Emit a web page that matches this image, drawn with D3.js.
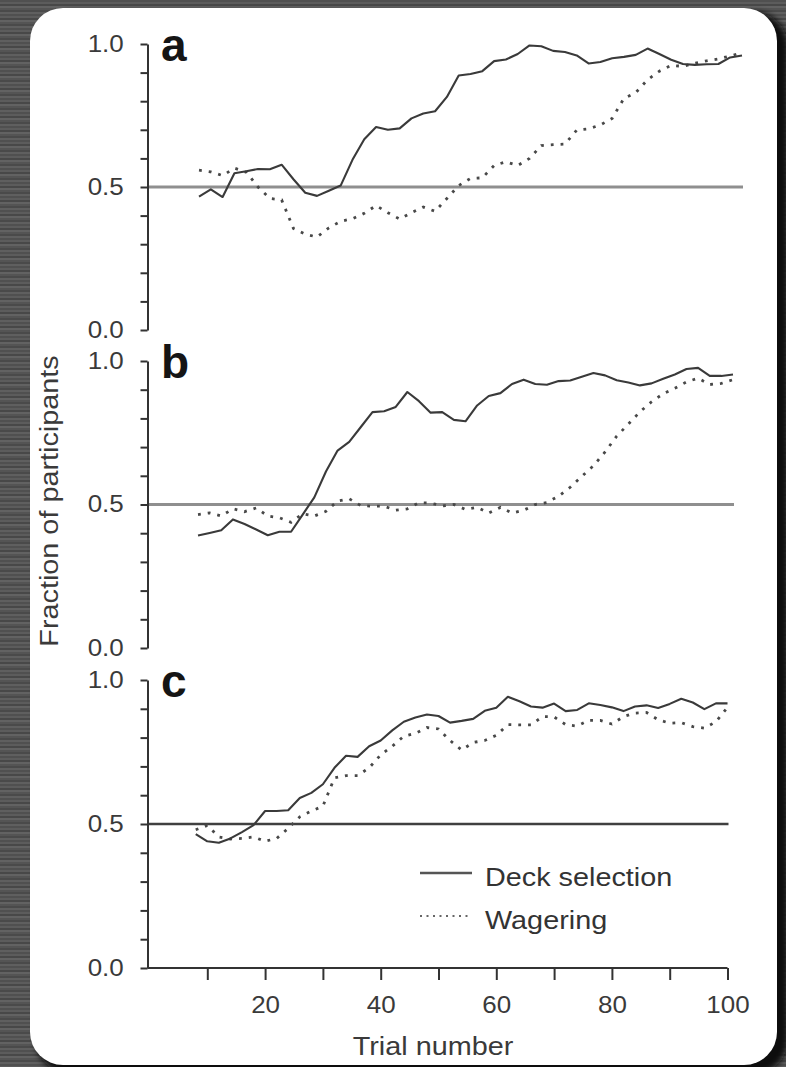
<!DOCTYPE html>
<html>
<head>
<meta charset="utf-8">
<script src="https://cdn.jsdelivr.net/npm/d3@7"></script>
<style>
  html, body { margin: 0; padding: 0; background: #4f4f4f; overflow: hidden; }
  svg { display: block; }
</style>
</head>
<body>
<div id="chart"></div>
<script>
// trial grid (every second trial, moving window starts around trial 8)
const trials = [8, 10, 12, 14, 16, 18, 20, 22, 24, 26, 28, 30, 32, 34, 36, 38, 40, 42, 44, 46, 48, 50, 52, 54,
  56, 58, 60, 62, 64, 66, 68, 70, 72, 74, 76, 78, 80, 82, 84, 86, 88, 90, 92, 94, 96, 98, 100];

const deckA = [0.466, 0.492, 0.465, 0.548, 0.555, 0.563, 0.562, 0.578, 0.527, 0.48, 0.469, 0.487, 0.505, 0.595,
  0.667, 0.71, 0.7, 0.705, 0.74, 0.757, 0.765, 0.815, 0.89, 0.895, 0.905, 0.94, 0.946, 0.965, 0.995, 0.992,
  0.976, 0.972, 0.96, 0.932, 0.937, 0.95, 0.955, 0.962, 0.984, 0.965, 0.945, 0.93, 0.927, 0.929, 0.93, 0.953, 0.96];
const wagerA = [0.559, 0.553, 0.54, 0.566, 0.552, 0.5, 0.46, 0.455, 0.355, 0.335, 0.325, 0.357, 0.38, 0.389,
  0.408, 0.435, 0.41, 0.388, 0.41, 0.43, 0.415, 0.46, 0.505, 0.53, 0.532, 0.575, 0.588, 0.575, 0.6, 0.645,
  0.648, 0.65, 0.699, 0.703, 0.717, 0.74, 0.81, 0.83, 0.875, 0.905, 0.925, 0.922, 0.933, 0.941, 0.948, 0.958, 0.97];

const deckB = [0.392, 0.401, 0.41, 0.448, 0.432, 0.413, 0.393, 0.405, 0.405, 0.465, 0.525, 0.615, 0.688, 0.718,
  0.77, 0.822, 0.825, 0.84, 0.892, 0.86, 0.82, 0.822, 0.795, 0.79, 0.845, 0.878, 0.888, 0.92, 0.935, 0.92,
  0.917, 0.93, 0.932, 0.945, 0.958, 0.95, 0.933, 0.925, 0.915, 0.922, 0.938, 0.953, 0.972, 0.976, 0.948, 0.948, 0.953];
const wagerB = [0.465, 0.471, 0.46, 0.485, 0.475, 0.488, 0.46, 0.454, 0.438, 0.468, 0.46, 0.476, 0.512, 0.52,
  0.496, 0.494, 0.494, 0.48, 0.485, 0.506, 0.505, 0.495, 0.5, 0.483, 0.49, 0.47, 0.49, 0.47, 0.48, 0.5,
  0.507, 0.529, 0.56, 0.598, 0.635, 0.683, 0.738, 0.78, 0.823, 0.858, 0.886, 0.905, 0.927, 0.94, 0.918, 0.922, 0.935];

const deckC = [0.465, 0.44, 0.435, 0.45, 0.472, 0.496, 0.545, 0.545, 0.548, 0.59, 0.608, 0.638, 0.695, 0.737,
  0.733, 0.77, 0.79, 0.825, 0.855, 0.87, 0.88, 0.875, 0.852, 0.858, 0.865, 0.893, 0.904, 0.942, 0.926, 0.908,
  0.904, 0.918, 0.892, 0.896, 0.919, 0.913, 0.905, 0.892, 0.908, 0.912, 0.903, 0.917, 0.935, 0.922, 0.899, 0.919, 0.919];
const wagerC = [0.48, 0.495, 0.455, 0.448, 0.45, 0.455, 0.44, 0.45, 0.485, 0.525, 0.545, 0.562, 0.66, 0.668,
  0.668, 0.695, 0.74, 0.77, 0.805, 0.815, 0.835, 0.83, 0.79, 0.757, 0.783, 0.79, 0.808, 0.845, 0.844, 0.844,
  0.873, 0.872, 0.845, 0.84, 0.86, 0.86, 0.847, 0.873, 0.885, 0.887, 0.862, 0.85, 0.852, 0.838, 0.833, 0.855, 0.905];

const yTickValues = [0, 0.1, 0.2, 0.3, 0.4, 0.5, 0.6, 0.7, 0.8, 0.9, 1.0];
const yTickLabels = { 0: "0.0", 0.5: "0.5", 1: "1.0" };
const xTickValues = [10, 20, 30, 40, 50, 60, 70, 80, 90, 100];
const xTickLabels = { 20: "20", 40: "40", 60: "60", 80: "80", 100: "100" };
const legendLabels = ["Deck selection", "Wagering"];
const chance = 0.5;

const width = 786;
const height = 1067;
const axisX = 147.5;
const font = "'Liberation Sans', Arial, Helvetica, sans-serif";
const stretch = "scale(1.13,1)";

const panels = [
  { name: "a", deck: deckA, wager: wagerA, xr: [151.8, 742], yr: [330, 44], ref: "#8f8f8f", refW: 3 },
  { name: "b", deck: deckB, wager: wagerB, xr: [151.5, 733], yr: [648, 361], ref: "#8f8f8f", refW: 3 },
  { name: "c", deck: deckC, wager: wagerC, xr: [149.5, 727.5], yr: [968, 680], ref: "#404040", refW: 2.5 }
];

const svg = d3.select("#chart")
  .append("svg")
  .attr("width", width)
  .attr("height", height);

const defs = svg.append("defs");

// brushed dark backdrop
const streaks = defs.append("pattern")
  .attr("id", "streaks")
  .attr("patternUnits", "userSpaceOnUse")
  .attr("width", width)
  .attr("height", 14);
["#505050", "#5c5c5c", "#484848", "#626262", "#545454", "#4a4a4a", "#5f5f5f"].forEach((c, i) => {
  streaks.append("rect").attr("x", 0).attr("y", i * 2).attr("width", width).attr("height", 2).attr("fill", c);
});
defs.append("filter").attr("id", "blur")
  .append("feGaussianBlur").attr("stdDeviation", 3);

svg.append("rect").attr("width", width).attr("height", height).attr("fill", "url(#streaks)");

// card shadow + card
svg.append("rect")
  .attr("x", 36).attr("y", 12).attr("width", 752).attr("height", 1062)
  .attr("rx", 34).attr("fill", "#0b0b0b").attr("filter", "url(#blur)");
svg.append("rect")
  .attr("x", 30).attr("y", 8).attr("width", 747).attr("height", 1057)
  .attr("rx", 33).attr("fill", "#ffffff");

panels.forEach(p => {
  const x = d3.scaleLinear().domain([0, 100]).range(p.xr);
  const y = d3.scaleLinear().domain([0, 1]).range(p.yr);
  const g = svg.append("g");

  // chance line
  g.append("line")
    .attr("x1", axisX).attr("x2", x(100) + 1)
    .attr("y1", y(chance)).attr("y2", y(chance))
    .attr("stroke", p.ref).attr("stroke-width", p.refW);

  const line = d3.line()
    .x((d, i) => x(trials[i]))
    .y(d => y(d));

  g.append("path")
    .datum(p.wager)
    .attr("d", line)
    .attr("fill", "none")
    .attr("stroke", "#484848")
    .attr("stroke-width", 2.8)
    .attr("stroke-dasharray", "2.8,7");

  g.append("path")
    .datum(p.deck)
    .attr("d", line)
    .attr("fill", "none")
    .attr("stroke", "#3a3a3a")
    .attr("stroke-width", 2.1)
    .attr("stroke-linejoin", "round");

  // y axis
  const yAxis = g.append("g")
    .attr("transform", `translate(${axisX},0)`)
    .call(d3.axisLeft(y)
      .tickValues(yTickValues)
      .tickSize(7)
      .tickSizeOuter(0)
      .tickPadding(14)
      .tickFormat(d => yTickLabels[Math.round(d * 10) / 10] || ""));
  yAxis.select(".domain").attr("stroke", "#333").attr("stroke-width", 2);
  yAxis.selectAll(".tick line").attr("stroke", "#333").attr("stroke-width", 2);
  yAxis.selectAll("text")
    .attr("transform", stretch)
    .attr("font-family", font)
    .attr("font-size", 23)
    .attr("fill", "#3a3a3a");

  // panel letter
  g.append("text")
    .attr("x", 161)
    .attr("y", y(1) + 17)
    .attr("font-family", font)
    .attr("font-weight", "bold")
    .attr("font-size", 46)
    .attr("fill", "#151515")
    .text(p.name);

  if (p.name === "c") {
    const xAxis = g.append("g")
      .attr("transform", `translate(0,${y(0)})`)
      .call(d3.axisBottom(x)
        .tickValues(xTickValues)
        .tickSize(12)
        .tickSizeOuter(0)
        .tickPadding(17)
        .tickFormat(d => xTickLabels[d] || ""));
    xAxis.select(".domain").attr("stroke", "#333").attr("stroke-width", 2)
      .attr("d", `M${axisX},0H${x(100)}`);
    xAxis.selectAll(".tick line").attr("stroke", "#333").attr("stroke-width", 2);
    xAxis.selectAll("text")
      .attr("transform", stretch)
      .attr("font-family", font)
      .attr("font-size", 23)
      .attr("fill", "#3a3a3a");

    // legend
    const lg = g.append("g");
    legendLabels.forEach((lab, i) => {
      const ly = 873 + i * 43;
      lg.append("line")
        .attr("x1", 420).attr("x2", 472)
        .attr("y1", ly).attr("y2", ly)
        .attr("stroke", i === 0 ? "#555" : "#666")
        .attr("stroke-width", i === 0 ? 2.4 : 2.2)
        .attr("stroke-dasharray", i === 0 ? null : "2,4.5");
      lg.append("text")
        .attr("transform", `translate(485,${ly + 13}) ${stretch}`)
        .attr("font-family", font)
        .attr("font-size", 25.5)
        .attr("fill", "#333")
        .text(lab);
    });
  }
});

// axis titles
svg.append("text")
  .attr("transform", `translate(433,1055) ${stretch}`)
  .attr("text-anchor", "middle")
  .attr("font-family", font)
  .attr("font-size", 25.5)
  .attr("fill", "#3a3a3a")
  .text("Trial number");

svg.append("text")
  .attr("transform", `translate(58,501) rotate(-90) ${stretch}`)
  .attr("text-anchor", "middle")
  .attr("font-family", font)
  .attr("font-size", 25.5)
  .attr("fill", "#3a3a3a")
  .text("Fraction of participants");
</script>
</body>
</html>
